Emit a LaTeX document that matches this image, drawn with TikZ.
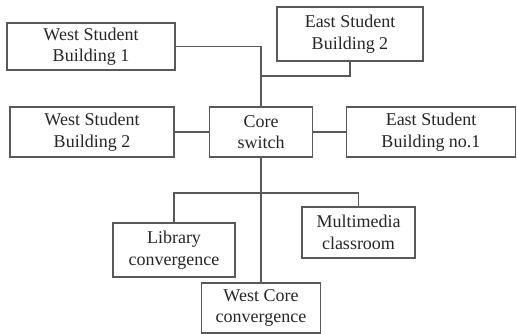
\documentclass[tikz,border=0pt]{standalone}
\usepackage{fontspec}
\setmainfont{Liberation Serif}
\usetikzlibrary{positioning,calc}

\tikzset{
  unit/.style={draw=black!65,line width=1.6pt,align=center,inner sep=0pt,
    text=black!85,font=\fontsize{18}{21.5}\selectfont},
  link/.style={draw=black!65,line width=1.6pt}
}

\begin{document}
\begin{tikzpicture}[x=1pt,y=-1pt]
  \useasboundingbox (0,0) rectangle (517,334);
  % top row
  \node[unit,minimum width=168,minimum height=47] (wsb1) at (91,46.5) {West Student\\Building 1};
  \node[unit,minimum width=146,minimum height=54] (esb2) at (350,34) {East Student\\Building 2};
  % middle row
  \node[unit,minimum width=103,minimum height=50] (core) at (261,132) {Core\\switch};
  \node[unit,minimum width=164,minimum height=50] (wsb2) at (92,132) {West Student\\Building 2};
  \node[unit,minimum width=169,minimum height=50] (esb1) at (431,132) {East Student\\Building no.1};
  % lower part
  \node[unit,minimum width=122,minimum height=54] (lib) at (174,250) {Library\\convergence};
  \node[unit,minimum width=113,minimum height=51] (mm) at (358.5,232.5) {Multimedia\\classroom};
  \node[unit,minimum width=119,minimum height=50] (wcore) at (261,308) {West Core\\convergence};
  \coordinate (j1) at (261,76);
  \coordinate (j2) at (261,193);
  % links
  \draw[link] (wsb1.east) -| (core.north);
  \draw[link] (esb2.south) |- (j1);
  \draw[link] (wsb2.east) -- (core.west);
  \draw[link] (core.east) -- (esb1.west);
  \draw[link] (core.south) -- (wcore.north);
  \draw[link] (lib.north) |- (j2) -| (mm.north);
\end{tikzpicture}
\end{document}
